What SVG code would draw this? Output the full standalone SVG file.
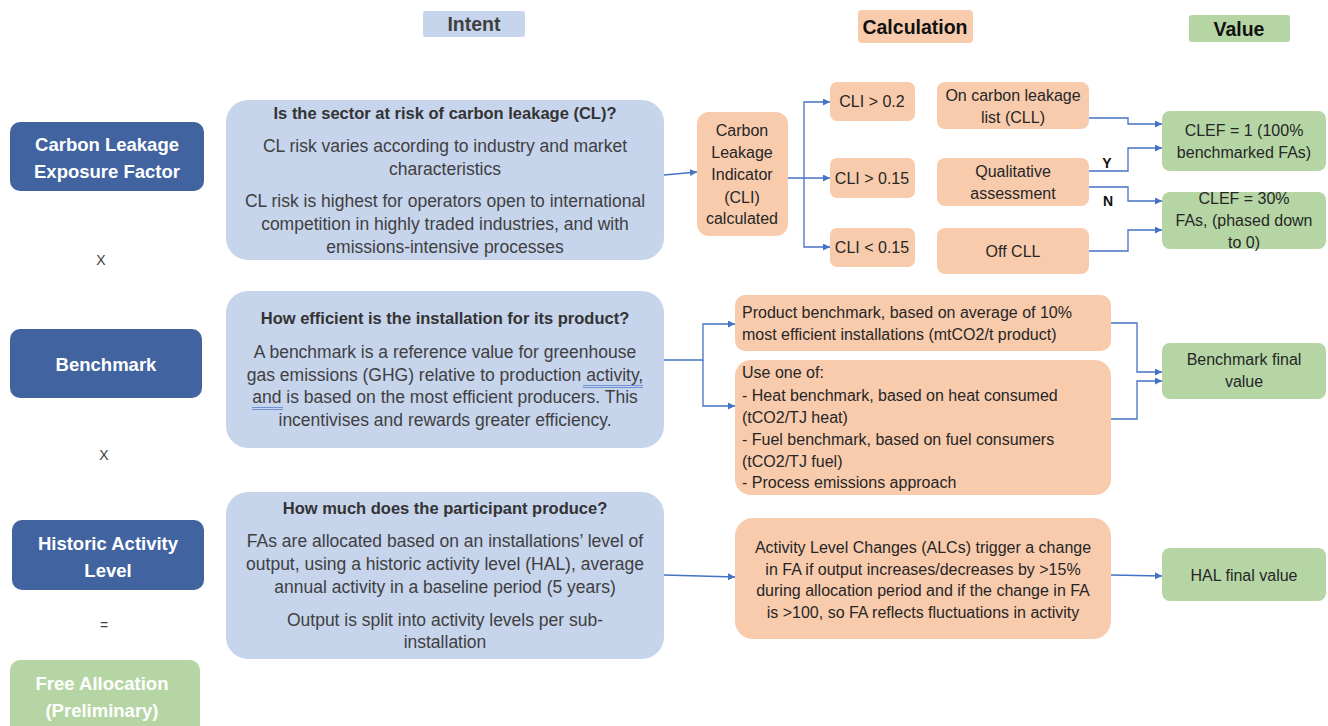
<svg xmlns="http://www.w3.org/2000/svg" width="1328" height="726" viewBox="0 0 1328 726">
<defs>
<marker id="arr" viewBox="0 0 10 10" refX="10" refY="5" markerWidth="7" markerHeight="7" orient="auto" markerUnits="userSpaceOnUse"><path d="M0,0 L10,5 L0,10 z" fill="#4472c4"/></marker>
<style>
text{font-family:"Liberation Sans",Arial,sans-serif;}
.hdr{font-size:19.5px;font-weight:bold;text-anchor:middle;}
.left{fill:#41639f;}
.lt{fill:#fff;font-size:18.5px;font-weight:bold;text-anchor:middle;}
.intent{fill:#c6d4ec;}
.it{fill:#404040;font-size:17.5px;text-anchor:middle;}
.itb{fill:#333;font-size:16.5px;font-weight:bold;text-anchor:middle;}
.calc{fill:#f8cbad;}
.ct{fill:#262626;font-size:16px;text-anchor:middle;}
.cl{fill:#262626;font-size:16px;}
.val{fill:#b5d6a4;}
.op{fill:#404040;font-size:14px;text-anchor:middle;}
.conn{fill:none;stroke:#4472c4;stroke-width:1.3;}
.spell{fill:none;stroke:#5b7fd0;stroke-width:0.8;}
</style>
</defs>
<rect width="1328" height="726" fill="#fff"/>

<g id="headers">
<rect x="423" y="11" width="102" height="26" rx="3" fill="#c6d4ec"/>
<text class="hdr" x="474" y="31" fill="#404040">Intent</text>
<rect x="858" y="10" width="115" height="33" rx="4" fill="#f8cbad"/>
<text class="hdr" x="915" y="34" fill="#111">Calculation</text>
<rect x="1189" y="15" width="101" height="27" rx="3" fill="#b5d6a4"/>
<text class="hdr" x="1239" y="36" fill="#111">Value</text>
</g>

<g id="clef">
<rect class="left" x="10" y="122" width="194" height="69" rx="10"/>
<text class="lt" x="107" y="151">Carbon Leakage</text>
<text class="lt" x="107" y="178">Exposure Factor</text>
</g>
<text class="op" x="101" y="265">X</text>
<g id="benchmark">
<rect class="left" x="10" y="329" width="192" height="69" rx="10"/>
<text class="lt" x="106" y="371">Benchmark</text>
</g>
<text class="op" x="104" y="460">X</text>
<g id="hal">
<rect class="left" x="12" y="520" width="192" height="70" rx="10"/>
<text class="lt" x="108" y="550">Historic Activity</text>
<text class="lt" x="108" y="577">Level</text>
</g>
<text class="op" x="104" y="630">=</text>
<g id="free-allocation">
<rect class="val" x="10" y="660" width="190" height="80" rx="10"/>
<text class="lt" x="102" y="690">Free Allocation</text>
<text class="lt" x="102" y="717">(Preliminary)</text>
</g>

<g id="intent-cl">
<rect class="intent" x="226" y="100" width="438" height="160" rx="22"/>
<text class="itb" x="445" y="119">Is the sector at risk of carbon leakage (CL)?</text>
<text class="it" x="445" y="152">CL risk varies according to industry and market</text>
<text class="it" x="445" y="175">characteristics</text>
<text class="it" x="445" y="207">CL risk is highest for operators open to international</text>
<text class="it" x="445" y="230">competition in highly traded industries, and with</text>
<text class="it" x="445" y="253">emissions-intensive processes</text>
</g>
<g id="intent-benchmark">
<rect class="intent" x="226" y="291" width="438" height="157" rx="22"/>
<text class="itb" x="445" y="324">How efficient is the installation for its product?</text>
<text class="it" x="445" y="358">A benchmark is a reference value for greenhouse</text>
<text class="it" x="445" y="381">gas emissions (GHG) relative to production activity,</text>
<text class="it" x="445" y="403">and is based on the most efficient producers. This</text>
<text class="it" x="445" y="426">incentivises and rewards greater efficiency.</text>
<path class="spell" d="M583,385.5 H643 M583,387.5 H643 M252,407.5 H283 M252,409.5 H283"/>
</g>
<g id="intent-hal">
<rect class="intent" x="226" y="492" width="438" height="167" rx="22"/>
<text class="itb" x="445" y="514">How much does the participant produce?</text>
<text class="it" x="445" y="547">FAs are allocated based on an installations’ level of</text>
<text class="it" x="445" y="570">output, using a historic activity level (HAL), average</text>
<text class="it" x="445" y="593">annual activity in a baseline period (5 years)</text>
<text class="it" x="445" y="626">Output is split into activity levels per sub-</text>
<text class="it" x="445" y="648">installation</text>
</g>

<g id="cli">
<rect class="calc" x="697" y="112" width="91" height="124" rx="12"/>
<text class="ct" x="742" y="136">Carbon</text>
<text class="ct" x="742" y="158">Leakage</text>
<text class="ct" x="742" y="180">Indicator</text>
<text class="ct" x="742" y="203">(CLI)</text>
<text class="ct" x="742" y="224">calculated</text>
</g>
<g id="cli-02">
<rect class="calc" x="830" y="82" width="85" height="39" rx="7"/>
<text class="ct" x="872" y="107">CLI &gt; 0.2</text>
</g>
<g id="cli-015">
<rect class="calc" x="830" y="158" width="85" height="40" rx="7"/>
<text class="ct" x="872" y="184">CLI &gt; 0.15</text>
</g>
<g id="cli-lt015">
<rect class="calc" x="830" y="228" width="85" height="39" rx="7"/>
<text class="ct" x="872" y="253">CLI &lt; 0.15</text>
</g>
<g id="on-cll">
<rect class="calc" x="937" y="82" width="152" height="47" rx="8"/>
<text class="ct" x="1013" y="101">On carbon leakage</text>
<text class="ct" x="1013" y="123">list (CLL)</text>
</g>
<g id="qualitative">
<rect class="calc" x="937" y="158" width="152" height="48" rx="8"/>
<text class="ct" x="1013" y="177">Qualitative</text>
<text class="ct" x="1013" y="199">assessment</text>
</g>
<g id="off-cll">
<rect class="calc" x="937" y="228" width="152" height="46" rx="8"/>
<text class="ct" x="1013" y="257">Off CLL</text>
</g>
<g id="clef-1">
<rect class="val" x="1162" y="111" width="164" height="60" rx="8"/>
<text class="ct" x="1244" y="136">CLEF = 1 (100%</text>
<text class="ct" x="1244" y="158">benchmarked FAs)</text>
</g>
<g id="clef-30">
<rect class="val" x="1162" y="192" width="164" height="57" rx="8"/>
<text class="ct" x="1244" y="204">CLEF = 30%</text>
<text class="ct" x="1244" y="226">FAs,  (phased down</text>
<text class="ct" x="1244" y="248">to 0)</text>
</g>

<g id="product-benchmark">
<rect class="calc" x="735" y="295" width="376" height="56" rx="10"/>
<text class="cl" x="742" y="318">Product benchmark, based on average of 10%</text>
<text class="cl" x="742" y="340">most efficient installations (mtCO2/t product)</text>
</g>
<g id="other-benchmarks">
<rect class="calc" x="735" y="360" width="376" height="135" rx="16"/>
<text class="cl" x="742" y="378">Use one of:</text>
<text class="cl" x="742" y="401">- Heat benchmark, based on heat consumed</text>
<text class="cl" x="742" y="423">(tCO2/TJ heat)</text>
<text class="cl" x="742" y="445">- Fuel benchmark, based on fuel consumers</text>
<text class="cl" x="742" y="467">(tCO2/TJ fuel)</text>
<text class="cl" x="742" y="488">- Process emissions approach</text>
</g>
<g id="benchmark-final">
<rect class="val" x="1162" y="343" width="164" height="56" rx="8"/>
<text class="ct" x="1244" y="365">Benchmark final</text>
<text class="ct" x="1244" y="387">value</text>
</g>
<g id="alc">
<rect class="calc" x="735" y="518" width="376" height="121" rx="18"/>
<text class="ct" x="923" y="553">Activity Level Changes (ALCs) trigger a change</text>
<text class="ct" x="923" y="575">in FA if output increases/decreases by &gt;15%</text>
<text class="ct" x="923" y="596">during allocation period and if the change in FA</text>
<text class="ct" x="923" y="618">is &gt;100, so FA reflects fluctuations in activity</text>
</g>
<g id="hal-final">
<rect class="val" x="1162" y="548" width="164" height="53" rx="8"/>
<text class="ct" x="1244" y="581">HAL final value</text>
</g>

<g id="connectors">
<path class="conn" d="M664,175 L697,172" marker-end="url(#arr)"/>
<path class="conn" d="M788,178 L830,178" marker-end="url(#arr)"/>
<path class="conn" d="M804,178 L804,102 L830,102" marker-end="url(#arr)"/>
<path class="conn" d="M804,178 L804,247 L830,247" marker-end="url(#arr)"/>
<path class="conn" d="M1089,118 L1128,118 L1128,124 L1162,124" marker-end="url(#arr)"/>
<path class="conn" d="M1089,171 L1128,171 L1128,148 L1162,148" marker-end="url(#arr)"/>
<path class="conn" d="M1089,187 L1128,187 L1128,201 L1162,201" marker-end="url(#arr)"/>
<path class="conn" d="M1089,251 L1128,251 L1128,230 L1162,230" marker-end="url(#arr)"/>
<path class="conn" d="M664,360 L703,360 L703,324 L735,324" marker-end="url(#arr)"/>
<path class="conn" d="M703,360 L703,406 L735,406" marker-end="url(#arr)"/>
<path class="conn" d="M1111,323 L1137,323 L1137,372 L1162,372" marker-end="url(#arr)"/>
<path class="conn" d="M1111,419 L1137,419 L1137,381 L1162,381" marker-end="url(#arr)"/>
<path class="conn" d="M664,575 L735,577" marker-end="url(#arr)"/>
<path class="conn" d="M1111,575 L1162,576" marker-end="url(#arr)"/>
<text x="1107" y="168" font-size="14" font-weight="bold" fill="#111" text-anchor="middle">Y</text>
<text x="1108" y="206" font-size="14" font-weight="bold" fill="#111" text-anchor="middle">N</text>
</g>
</svg>
